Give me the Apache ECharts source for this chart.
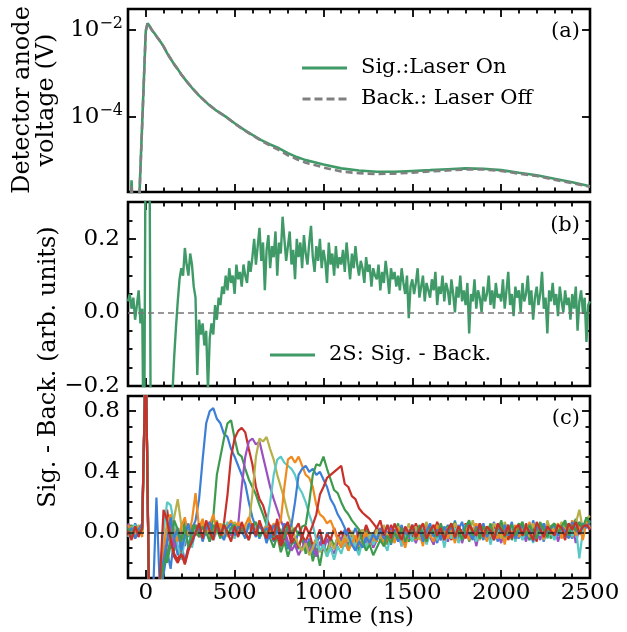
<!DOCTYPE html>
<html>
<head>
<meta charset="utf-8">
<script src="https://cdn.jsdelivr.net/npm/echarts@6/dist/echarts.min.js"></script>
<style>
  html, body { margin: 0; padding: 0; background: #fff; }
  #chart { width: 627px; height: 632px; }
</style>
</head>
<body>
<div id="chart"></div>
<script>
// ---- panel (a): detector anode voltage in V (log axis) ----
const timeA = [-100, -90, -80, -70, -60, -50, -40,
  0, 10, 20, 30, 40, 50, 60,
  80, 100, 120, 140, 160, 180, 200,
  230, 260, 300, 350, 400, 450, 500,
  550, 600, 650, 700, 750, 800, 850,
  900, 950, 1000, 1100, 1200, 1300, 1400,
  1500, 1600, 1700, 1800, 1900, 2000, 2100,
  2200, 2300, 2400, 2500]
const sigOn = [4e-7, 2e-7, 3.5e-6, 3e-7, 5e-7, 2e-7, 6e-7,
  9.5e-3, 1.43e-2, 1.26e-2, 1.07e-2, 9.3e-3, 8.3e-3, 7.2e-3,
  5.6e-3, 4.2e-3, 2.95e-3, 2.19e-3, 1.62e-3, 1.26e-3, 9.5e-4,
  6.6e-4, 4.7e-4, 3.1e-4, 2.0e-4, 1.38e-4, 1.02e-4, 7.2e-5,
  5.2e-5, 3.9e-5, 2.95e-5, 2.34e-5, 1.91e-5, 1.48e-5, 1.20e-5,
  1.02e-5, 9.1e-6, 8.1e-6, 6.6e-6, 5.9e-6, 5.5e-6, 5.5e-6,
  5.75e-6, 6.0e-6, 6.3e-6, 6.6e-6, 6.45e-6, 6.0e-6, 5.25e-6,
  4.6e-6, 3.8e-6, 3.16e-6, 2.57e-6]
const backOff = [3e-7, 5e-7, 2.8e-6, 2e-7, 4e-7, 3e-7, 5e-7,
  9.5e-3, 1.43e-2, 1.26e-2, 1.07e-2, 9.3e-3, 8.3e-3, 7.2e-3,
  5.6e-3, 4.2e-3, 2.95e-3, 2.19e-3, 1.62e-3, 1.26e-3, 9.5e-4,
  6.6e-4, 4.7e-4, 3.1e-4, 2.0e-4, 1.38e-4, 1.02e-4, 7.1e-5,
  5.1e-5, 3.8e-5, 2.85e-5, 2.19e-5, 1.74e-5, 1.32e-5, 1.07e-5,
  8.9e-6, 7.9e-6, 6.9e-6, 5.6e-6, 5.1e-6, 4.9e-6, 5.0e-6,
  5.25e-6, 5.6e-6, 5.9e-6, 6.2e-6, 6.2e-6, 5.75e-6, 5.0e-6,
  4.4e-6, 3.6e-6, 3.0e-6, 2.5e-6]

// ---- panel (b): 2S signal minus background, sampled every 10 ns from -100 ns ----
const T0 = -100
const stepB = 10
const diff2S = [
  0.03, 0.05, 0.01, 0.04, -0.02, 0.02, 0.06, -0.03, 0.01, -0.5,
  0.6, 0.8, 0.6, -0.6, -0.5, -0.45, -0.5, -0.4, -0.45, -0.38,
  -0.35, -0.4, -0.3, -0.28, -0.3, -0.22, -0.12, -0.04, 0.03, 0.09,
  0.12, 0.1, 0.175, 0.13, 0.1, 0.16, 0.13, 0.07, 0.04, -0.17,
  -0.02, -0.06, -0.03, -0.09, -0.05, -0.21, -0.07, -0.03, -0.06, 0.02,
  -0.02, 0.04, 0.02, 0.07, 0.05, 0.1, 0.06, 0.12, 0.08, 0.1,
  0.05, 0.13, 0.09, 0.11, 0.07, 0.13, 0.1, 0.08, 0.14, 0.11,
  0.15, 0.2, 0.13, 0.18, 0.23, 0.14, 0.19, 0.06, 0.17, 0.21,
  0.12, 0.18, 0.15, 0.22, 0.1, 0.19, 0.16, 0.26, 0.2, 0.14,
  0.18, 0.22, 0.13, 0.17, 0.09, 0.2, 0.15, 0.19, 0.12, 0.21,
  0.16, 0.13, 0.19, 0.235, 0.15, 0.11, 0.18, 0.14, 0.2, 0.12,
  0.17, 0.14, 0.08, 0.19, 0.13, 0.16, 0.1, 0.18, 0.12, 0.15,
  0.13, 0.17, 0.11, 0.19, 0.14, 0.09, 0.16, 0.12, 0.18, 0.13,
  0.1, 0.14, 0.12, 0.08, 0.15, 0.11, 0.13, 0.07, 0.12, 0.1,
  0.09, 0.13, 0.06, 0.11, 0.08, 0.14, 0.1, 0.05, 0.12, 0.09,
  0.11, 0.07, 0.1, 0.06, 0.12, 0.08, 0.05, 0.1, -0.016, 0.07,
  0.09, 0.05, 0.08, 0.12, 0.04, 0.07, 0.1, 0.03, 0.08, 0.06,
  0.04, 0.09, 0.06, 0.11, 0.02, 0.07, 0.05, 0.1, 0.03, 0.08,
  0.06, 0.02, 0.09, 0.05, 0.0, 0.07, 0.04, 0.1, 0.03, 0.06,
  0.02, 0.08, -0.057, 0.05, 0.03, 0.09, 0.01, 0.06, 0.04, 0.0,
  0.07, 0.03, 0.05, 0.1, 0.02, 0.06, 0.01, 0.08, 0.04, 0.05,
  0.03, 0.09, 0.01, 0.06, 0.11, 0.02, 0.05, -0.01, 0.07, 0.04,
  0.06, 0.0, 0.08, 0.03, 0.05, 0.1, 0.02, 0.06, -0.02, 0.04,
  0.07, 0.02, 0.05, 0.11, 0.01, 0.04, -0.057, 0.06, 0.03, 0.08,
  0.02, 0.05, -0.01, 0.07, 0.03, 0.0, 0.06, 0.02, 0.04, -0.02,
  0.05, 0.01, 0.07, -0.05, 0.03, 0.06, 0.0, 0.04, -0.08, 0.02,
  0.03]

// ---- panel (c): single scans, sampled every 20 ns from -100 ns ----
const stepC = 20
const scanBlue1 = [
  0.04, -0.03, 0.06, 0.01, 0.03, 1.2, -0.6, -0.45, 0.23, -0.4,
  -0.28, -0.12, -0.24, -0.02, -0.15, -0.06, -0.2, -0.09, 0.02, 0.08,
  0.22, 0.48, 0.72, 0.8, 0.82, 0.75, 0.72, 0.65, 0.63, 0.55,
  0.5, 0.44, 0.38, 0.32, 0.2, 0.1, 0.03, -0.04, 0.02, -0.07,
  0.01, -0.06, 0.03, -0.09, 0.0, -0.11, -0.04, -0.08, 0.01, -0.05,
  -0.12, -0.04, -0.15, -0.07, -0.02, -0.11, 0.0, -0.06, -0.1, -0.03,
  -0.06, 0.02, -0.09, -0.03, 0.03, -0.05, -0.01, 0.04, -0.07, 0.0,
  -0.04, 0.03, -0.06, 0.01, -0.08, 0.02, -0.03, 0.05, -0.05, 0.0,
  0.04, -0.06, 0.02, -0.02, 0.06, -0.04, 0.01, -0.07, 0.03, -0.01,
  0.05, -0.03, 0.08, -0.05, 0.02, -0.02, 0.06, -0.04, 0.03, 0.0,
  -0.05, 0.04, -0.01, 0.07, -0.06, 0.02, -0.03, 0.05, -0.02, 0.03,
  -0.04, 0.06, 0.0, -0.05, 0.08, -0.02, 0.03, -0.06, 0.04, 0.01,
  -0.03, 0.05, -0.01, 0.07, 0.0, -0.04, 0.06, 0.02, -0.02, 0.08,
  0.04]
const scanGreen1 = [
  0.02, 0.05, -0.04, 0.03, -0.01, 1.2, -0.55, -0.5, -0.42, -0.38,
  -0.15, -0.2, -0.08, -0.12, 0.02, -0.05, 0.08, -0.03, 0.05, -0.02,
  0.04, -0.05, 0.06, -0.02, 0.1, 0.38, 0.5, 0.62, 0.72, 0.74,
  0.62, 0.52, 0.5, 0.42, 0.35, 0.3, 0.25, 0.18, 0.12, 0.05,
  -0.04, -0.1, -0.02, -0.13, -0.06, -0.16, -0.08, -0.04, -0.11, -0.02,
  -0.14, -0.06, -0.19, -0.1, -0.22, -0.08, -0.13, -0.03, -0.09, -0.05,
  -0.08, -0.02, -0.1, 0.01, -0.06, -0.12, -0.03, 0.02, -0.07, -0.01,
  0.03, -0.05, 0.0, -0.08, 0.04, -0.02, 0.06, -0.04, 0.01, -0.06,
  -0.02, 0.05, -0.04, 0.02, -0.07, 0.03, 0.0, 0.06, -0.03, 0.02,
  0.04, -0.02, 0.07, -0.03, 0.01, 0.05, -0.06, 0.02, -0.01, 0.06,
  0.0, -0.04, 0.05, 0.01, -0.03, 0.08, -0.02, 0.04, -0.05, 0.02,
  0.06, -0.01, 0.03, -0.05, 0.04, 0.0, 0.07, -0.03, 0.02, -0.04,
  0.05, 0.01, -0.03, 0.06, -0.02, 0.04, 0.09, -0.01, 0.03, 0.05,
  0.02]
const scanRed1 = [
  -0.02, 0.04, 0.01, -0.03, 0.05, 1.2, -0.58, -0.48, -0.44, -0.36,
  0.05, 0.15, -0.02, -0.14, -0.18, -0.12, -0.2, -0.1, -0.04, 0.02,
  -0.03, 0.05, 0.0, 0.07, -0.02, 0.04, 0.01, 0.06, 0.25, 0.5,
  0.62, 0.67, 0.69, 0.66, 0.55, 0.45, 0.3, 0.22, 0.18, 0.1,
  0.03, -0.05, -0.02, -0.09, -0.04, 0.01, -0.07, -0.03, -0.1, -0.02,
  -0.06, 0.0, -0.09, -0.04, 0.02, -0.08, -0.01, -0.05, 0.03, -0.04,
  0.01, -0.06, 0.03, -0.02, -0.08, 0.02, -0.04, 0.05, -0.01, -0.05,
  0.04, -0.03, 0.02, -0.06, 0.05, 0.0, -0.04, 0.03, -0.07, 0.01,
  -0.03, 0.06, -0.01, 0.03, -0.05, 0.04, -0.02, 0.07, 0.0, -0.04,
  0.02, -0.05, 0.04, 0.0, -0.03, 0.06, -0.01, 0.03, -0.06, 0.05,
  -0.02, 0.03, -0.06, 0.05, 0.01, -0.03, 0.04, -0.05, 0.02, 0.0,
  0.03, -0.04, 0.06, -0.01, 0.02, -0.06, 0.05, 0.0, -0.03, 0.04,
  -0.01, 0.04, 0.02, -0.05, 0.06, 0.01, -0.02, 0.05, 0.03, 0.07,
  0.05]
const scanPurple = [
  0.06, 0.0, 0.03, -0.02, 0.04, 1.2, -0.6, -0.5, -0.46, -0.4,
  -0.2, -0.08, 0.06, -0.1, -0.05, 0.04, -0.09, 0.03, -0.02, 0.05,
  0.0, -0.04, 0.03, -0.06, 0.02, 0.05, -0.03, 0.04, 0.0, -0.02,
  0.06, 0.05, 0.3, 0.5, 0.6, 0.62, 0.58, 0.6, 0.5, 0.4,
  0.3, 0.22, 0.15, 0.08, 0.02, -0.06, -0.12, -0.08, -0.15, -0.1,
  -0.05, -0.13, -0.08, -0.16, -0.06, -0.12, -0.04, -0.1, -0.14, -0.07,
  -0.03, -0.09, -0.05, 0.0, -0.11, -0.04, 0.02, -0.07, -0.02, -0.1,
  -0.05, 0.01, -0.08, -0.02, 0.03, -0.06, 0.0, -0.09, 0.02, -0.04,
  0.02, -0.07, 0.01, -0.04, 0.04, -0.03, -0.08, 0.02, -0.05, 0.0,
  -0.06, 0.03, -0.02, 0.05, -0.07, 0.01, -0.04, 0.03, -0.09, 0.02,
  0.01, -0.05, 0.04, -0.03, 0.0, -0.07, 0.03, -0.02, 0.05, -0.04,
  -0.03, 0.02, -0.06, 0.04, -0.01, 0.03, -0.05, 0.06, -0.02, 0.0,
  0.04, -0.06, 0.02, 0.0, -0.03, 0.05, -0.07, 0.03, 0.01, 0.06,
  0.02]
const scanOlive = [
  0.01, 0.04, -0.03, 0.05, 0.0, 1.2, -0.55, -0.52, -0.4, -0.34,
  -0.1, 0.04, -0.06, 0.1, 0.22, 0.05, -0.05, 0.02, -0.08, 0.03,
  -0.02, 0.06, 0.0, -0.04, 0.03, 0.08, -0.01, 0.05, -0.03, 0.02,
  0.07, 0.0, 0.04, 0.02, 0.06, 0.25, 0.5, 0.62, 0.6, 0.63,
  0.55, 0.48, 0.38, 0.3, 0.22, 0.12, 0.05, -0.03, -0.08, -0.12,
  -0.07, -0.15, -0.1, -0.04, -0.13, -0.09, -0.16, -0.06, -0.11, -0.03,
  -0.08, -0.02, -0.06, 0.01, -0.09, -0.04, 0.02, -0.05, 0.0, -0.07,
  0.02, -0.04, 0.05, -0.02, 0.01, -0.06, 0.04, 0.0, -0.03, 0.06,
  -0.01, 0.04, -0.05, 0.02, 0.07, -0.02, 0.03, -0.04, 0.05, 0.0,
  0.03, -0.03, 0.06, 0.01, -0.04, 0.04, -0.02, 0.08, 0.0, -0.05,
  0.05, 0.0, -0.03, 0.06, 0.02, -0.04, 0.07, 0.01, -0.02, 0.04,
  -0.02, 0.05, 0.02, -0.03, 0.06, 0.0, 0.04, -0.05, 0.08, 0.01,
  0.03, -0.02, 0.07, 0.01, 0.05, -0.03, 0.06, 0.15, 0.02, 0.09,
  0.11]
const scanCyan = [
  -0.03, 0.02, 0.05, -0.01, 0.03, 1.2, -0.6, -0.5, -0.45, -0.38,
  0.0, 0.2, 0.18, 0.05, -0.08, -0.18, -0.05, 0.03, -0.1, 0.02,
  0.05, -0.03, 0.02, 0.06, -0.05, 0.01, 0.04, -0.02, 0.07, 0.0,
  -0.04, 0.03, 0.06, -0.01, 0.04, 0.0, 0.05, -0.03, 0.02, 0.05,
  0.2, 0.38, 0.48, 0.5, 0.46, 0.44, 0.42, 0.38, 0.3, 0.26,
  0.2, 0.12, 0.05, -0.05, -0.12, -0.08, -0.16, -0.1, -0.18, -0.09,
  -0.14, -0.06, -0.12, -0.03, -0.09, -0.15, -0.05, -0.1, -0.02, -0.08,
  -0.04, 0.01, -0.07, -0.12, 0.0, -0.05, 0.03, -0.09, -0.02, 0.02,
  -0.06, 0.0, -0.03, 0.04, -0.08, -0.01, 0.02, -0.05, 0.03, -0.1,
  0.01, -0.04, 0.03, -0.07, 0.0, 0.05, -0.03, 0.02, -0.06, 0.01,
  -0.03, 0.04, -0.08, 0.02, -0.01, 0.05, -0.04, 0.0, 0.03, -0.06,
  0.02, -0.05, 0.01, 0.04, -0.07, 0.03, -0.02, 0.06, -0.04, 0.0,
  -0.05, 0.03, 0.0, -0.03, 0.05, -0.02, 0.04, -0.17, 0.01, 0.06,
  0.03]
const scanOrange = [
  0.05, -0.01, 0.02, 0.04, -0.03, 1.2, -0.56, -0.48, -0.43, -0.37,
  -0.12, 0.06, 0.12, 0.0, -0.06, 0.04, 0.1, -0.02, 0.08, 0.26,
  0.03, 0.09, -0.02, 0.05, 0.12, 0.0, 0.06, -0.03, 0.04, 0.08,
  0.02, 0.07, -0.01, 0.05, 0.1, 0.03, -0.02, 0.06, 0.01, 0.04,
  0.0, 0.06, 0.03, 0.08, 0.3, 0.48, 0.5, 0.46, 0.5, 0.44,
  0.38, 0.36, 0.3, 0.18, 0.12, 0.1, 0.06, 0.08, 0.02, -0.05,
  -0.1, -0.04, -0.12, -0.07, -0.02, -0.09, -0.05, 0.0, -0.08, -0.03,
  -0.06, 0.02, -0.09, -0.04, 0.01, -0.07, 0.03, -0.03, -0.1, 0.0,
  0.03, -0.05, 0.0, -0.09, 0.04, -0.02, -0.06, 0.05, -0.01, 0.02,
  -0.04, 0.02, -0.07, 0.04, -0.01, 0.03, -0.05, 0.01, 0.06, -0.03,
  0.02, -0.06, 0.05, 0.0, -0.04, 0.03, -0.08, 0.04, -0.01, 0.05,
  -0.03, 0.04, -0.02, 0.07, -0.05, 0.01, 0.03, -0.04, 0.05, -0.01,
  0.02, 0.06, -0.04, 0.03, 0.0, 0.08, -0.02, 0.04, -0.05, 0.07,
  0.03]
const scanBlue2 = [
  0.0, 0.03, -0.04, 0.02, 0.06, 1.2, -0.58, -0.46, -0.44, -0.32,
  -0.18, -0.05, 0.1, -0.04, 0.03, -0.12, -0.02, 0.06, -0.07, 0.0,
  0.04, -0.06, 0.02, 0.07, -0.03, 0.05, 0.0, -0.05, 0.03, 0.06,
  -0.02, 0.04, 0.01, -0.04, 0.06, 0.02, -0.03, 0.05, 0.0, 0.03,
  -0.04, 0.05, 0.02, -0.02, 0.06, 0.01, 0.05, 0.2, 0.38, 0.42,
  0.44, 0.4, 0.42, 0.38, 0.4, 0.35, 0.3, 0.22, 0.18, 0.12,
  0.08, 0.03, -0.02, -0.08, -0.12, -0.06, -0.1, -0.03, -0.07, -0.01,
  -0.05, 0.02, -0.04, 0.05, -0.02, 0.01, -0.06, 0.03, 0.0, -0.03,
  0.05, -0.02, 0.03, -0.06, 0.01, 0.06, -0.03, 0.02, -0.05, 0.04,
  -0.01, 0.05, -0.04, 0.02, 0.07, -0.02, 0.0, -0.05, 0.04, 0.01,
  0.06, -0.03, 0.02, -0.05, 0.04, 0.0, 0.05, -0.02, 0.07, -0.04,
  0.01, 0.05, -0.03, 0.02, -0.06, 0.04, 0.0, 0.06, -0.02, 0.03,
  0.05, -0.02, 0.04, 0.01, -0.04, 0.07, 0.02, -0.01, 0.06, 0.03,
  0.08]
const scanGreen2 = [
  0.03, -0.02, 0.04, 0.0, 0.02, 1.2, -0.6, -0.5, -0.45, -0.36,
  -0.22, -0.14, -0.05, 0.08, 0.02, -0.06, 0.04, -0.1, 0.0, 0.05,
  -0.03, 0.04, 0.0, -0.06, 0.05, 0.02, -0.04, 0.06, -0.01, 0.03,
  0.05, -0.02, 0.03, 0.0, -0.05, 0.04, 0.07, -0.03, 0.02, -0.01,
  0.04, -0.03, 0.05, 0.01, -0.04, 0.06, 0.0, 0.03, -0.02, 0.04,
  0.05, 0.2, 0.38, 0.45, 0.44, 0.5, 0.42, 0.35, 0.28, 0.26,
  0.2, 0.15, 0.12, 0.08, 0.05, 0.02, -0.06, -0.12, -0.08, -0.15,
  -0.1, -0.05, -0.09, -0.02, -0.07, 0.0, -0.04, 0.03, -0.06, -0.01,
  0.02, -0.04, 0.05, -0.01, -0.06, 0.03, 0.0, -0.03, 0.06, -0.02,
  0.01, 0.06, -0.03, 0.02, -0.05, 0.04, 0.08, -0.02, 0.03, -0.04,
  0.04, -0.01, 0.06, -0.04, 0.02, 0.07, -0.03, 0.01, 0.05, -0.02,
  0.03, 0.07, -0.02, 0.05, 0.0, -0.04, 0.06, 0.02, -0.03, 0.04,
  0.06, 0.0, 0.04, 0.08, -0.02, 0.05, 0.01, 0.07, 0.03, 0.1,
  0.06]
const scanRed2 = [
  0.01, -0.05, 0.04, -0.02, 0.03, 1.2, -0.6, -0.52, -0.46, -0.3,
  0.15, 0.08, -0.05, -0.16, -0.2, -0.14, -0.21, -0.12, -0.06, 0.0,
  0.06, -0.04, 0.08, 0.01, -0.05, 0.07, -0.02, 0.05, 0.0, -0.06,
  0.04, -0.03, 0.07, 0.0, -0.05, 0.06, -0.02, 0.08, 0.01, -0.04,
  0.05, -0.02, 0.09, -0.06, 0.03, 0.07, -0.04, 0.02, 0.06, -0.03,
  0.04, -0.01, 0.05, 0.12, 0.25, 0.3, 0.36, 0.38, 0.4, 0.42,
  0.44, 0.32, 0.3, 0.24, 0.22, 0.16, 0.13, 0.11, 0.09, 0.06,
  0.03, 0.08, -0.02, 0.05, -0.04, 0.06, 0.0, -0.05, 0.04, -0.01,
  0.05, -0.03, 0.02, 0.06, -0.04, 0.01, 0.05, -0.02, 0.03, -0.05,
  0.02, 0.06, -0.03, 0.04, 0.0, -0.04, 0.05, 0.01, -0.02, 0.06,
  -0.03, 0.04, 0.01, -0.05, 0.06, 0.02, -0.02, 0.05, -0.04, 0.03,
  0.05, -0.02, 0.04, 0.0, -0.05, 0.07, 0.02, -0.03, 0.04, 0.01,
  -0.02, 0.05, 0.03, -0.03, 0.06, 0.02, 0.07, -0.01, 0.04, 0.05,
  0.02]

// ---- ticks ----
const xMajor = [0, 500, 1000, 1500, 2000, 2500]
const xMinor = [-100, 100, 200, 300, 400, 600, 700, 800, 900, 1100, 1200, 1300, 1400,
  1600, 1700, 1800, 1900, 2100, 2200, 2300, 2400]
const aMajor = [-4, -2] // log10 of 1e-4, 1e-2
const bMajor = [-0.2, 0, 0.2]
const bMinor = [-0.15, -0.1, -0.05, 0.05, 0.1, 0.15, 0.25]
const cMajor = [0, 0.4, 0.8]
const cMinor = [-0.2, -0.1, 0.1, 0.2, 0.3, 0.5, 0.6, 0.7]

const FONT = 'DejaVu Serif'
const TXT = { fontFamily: FONT, fontSize: 23, color: '#000' }
const SMALL = { fontFamily: FONT, fontSize: 21, color: '#000' }

const tick = (vals, len) => ({
  show: true, inside: true, length: len, customValues: vals,
  lineStyle: { color: '#000', width: 1.8 },
})
const noLine = { show: false, onZero: false }

const xAxes = []
const yAxes = []
const xIdx = []
const yIdx = []

function addX(g, withLabels) {
  const base = { type: 'value', gridIndex: g, min: -100, max: 2500,
    axisLine: noLine, splitLine: { show: false }, axisLabel: { show: false } }
  xIdx[g] = xAxes.length
  const main = Object.assign({}, base, { position: 'bottom', axisTick: tick(xMajor, 8) })
  if (withLabels) {
    main.axisLabel = Object.assign({ show: true, customValues: xMajor, margin: 4, formatter: v => String(v) }, TXT)
    main.name = 'Time (ns)'
    main.nameLocation = 'middle'
    main.nameGap = 27
    main.nameTextStyle = TXT
  }
  xAxes.push(main,
    Object.assign({}, base, { position: 'bottom', axisTick: tick(xMinor, 4.5) }),
    Object.assign({}, base, { position: 'top', axisTick: tick(xMajor, 8) }),
    Object.assign({}, base, { position: 'top', axisTick: tick(xMinor, 4.5) }))
}

function addY(g, min, max, major, minor, label) {
  const base = { type: 'value', gridIndex: g, min: min, max: max,
    axisLine: noLine, splitLine: { show: false }, axisLabel: { show: false } }
  yIdx[g] = yAxes.length
  yAxes.push(
    Object.assign({}, base, { position: 'left', axisTick: tick(major, 8),
      axisLabel: Object.assign({ show: true, customValues: major }, TXT, label) }),
    Object.assign({}, base, { position: 'right', axisTick: tick(major, 8) }))
  if (minor.length) {
    yAxes.push(
      Object.assign({}, base, { position: 'left', axisTick: tick(minor, 4.5) }),
      Object.assign({}, base, { position: 'right', axisTick: tick(minor, 4.5) }))
  }
}

const fmtDec = v => (v < 0 ? '\u2212' : '') + Math.abs(v).toFixed(1)

addX(0, false)
addX(1, false)
addX(2, true)
addY(0, -5.724, -1.517, aMajor, [], {
  margin: 5,
  formatter: v => '{b|10}{e|\u2212' + Math.abs(v) + '}',
  rich: {
    b: { fontFamily: FONT, fontSize: 23, color: '#000' },
    e: { fontFamily: FONT, fontSize: 16, color: '#000', verticalAlign: 'bottom', padding: [0, 0, 12, 0] },
  },
})
addY(1, -0.2, 0.3, bMajor, bMinor, { margin: 8, formatter: fmtDec })
addY(2, -0.3, 0.9, cMajor, cMinor, { margin: 8, formatter: fmtDec })

const gridBox = { left: 128, right: 37, show: true, borderColor: '#000', borderWidth: 2.6,
  backgroundColor: 'rgba(0,0,0,0)', outerBoundsMode: 'none' }

const GREEN = '#3f9a68'
const zeroLine = (color) => ({
  silent: true, symbol: 'none', label: { show: false },
  lineStyle: { color: color, type: [6, 4], width: 1.5 },
  data: [{ yAxis: 0 }],
})

const series = [
  {
    name: 'Sig.:Laser On', type: 'line', xAxisIndex: xIdx[0], yAxisIndex: yIdx[0],
    symbol: 'none', lineStyle: { color: GREEN, width: 2.6 }, itemStyle: { color: GREEN },
    data: timeA.map((t, i) => [t, Math.log10(sigOn[i])]),
  },
  {
    name: 'Back.: Laser Off', type: 'line', xAxisIndex: xIdx[0], yAxisIndex: yIdx[0],
    symbol: 'none', lineStyle: { color: '#808080', width: 2.6, type: [7, 4] }, itemStyle: { color: '#808080' },
    data: timeA.map((t, i) => [t, Math.log10(backOff[i])]),
  },
  {
    name: '2S: Sig. - Back.', type: 'line', xAxisIndex: xIdx[1], yAxisIndex: yIdx[1],
    symbol: 'none', lineStyle: { color: GREEN, width: 2.4 }, itemStyle: { color: GREEN },
    data: diff2S.map((v, i) => [T0 + i * stepB, v]),
    markLine: zeroLine('#777'),
  },
]

const scans = [
  [scanBlue1, '#3c7fd6'], [scanGreen1, '#3e9b4e'], [scanRed1, '#c8302a'],
  [scanPurple, '#9a50be'], [scanOlive, '#b7b04a'], [scanCyan, '#5ac8c5'],
  [scanOrange, '#f08a1e'], [scanBlue2, '#3c7fd6'], [scanGreen2, '#3e9b4e'],
  [scanRed2, '#c8302a'],
]
scans.forEach(([vals, color], k) => {
  const s = {
    name: 'scan' + k, type: 'line', xAxisIndex: xIdx[2], yAxisIndex: yIdx[2],
    symbol: 'none', lineStyle: { color: color, width: 2.2 }, itemStyle: { color: color },
    data: vals.map((v, i) => [T0 + i * stepC, v]),
  }
  if (k === scans.length - 1) s.markLine = zeroLine('#222')
  series.push(s)
})

const legendText = Object.assign({ padding: [0, 0, 0, 9], lineHeight: 24 }, SMALL)
const solidIcon = 'path://M0,0h45v2.8h-45z'
const dashIcon = 'path://M0,0h8v2.8h-8zM12,0h8v2.8h-8zM24,0h8v2.8h-8zM36,0h8v2.8h-8z'

const option = {
  animation: false,
  backgroundColor: '#fff',
  grid: [
    Object.assign({ top: 9, height: 183 }, gridBox),
    Object.assign({ top: 202, height: 184 }, gridBox),
    Object.assign({ top: 396, height: 182 }, gridBox),
  ],
  xAxis: xAxes,
  yAxis: yAxes,
  legend: [
    { left: 297, top: 51, orient: 'vertical', itemWidth: 45, itemHeight: 2.8, itemGap: 7,
      data: [{ name: 'Sig.:Laser On', icon: solidIcon }, { name: 'Back.: Laser Off', icon: dashIcon }],
      textStyle: legendText },
    { left: 265, top: 338, itemWidth: 45, itemHeight: 2.8,
      data: [{ name: '2S: Sig. - Back.', icon: solidIcon }], textStyle: legendText },
  ],
  graphic: [
    { type: 'text', x: 580, y: 32, style: { text: '(a)', fill: '#000', fontFamily: FONT, fontSize: 21, align: 'right', verticalAlign: 'middle' } },
    { type: 'text', x: 580, y: 226, style: { text: '(b)', fill: '#000', fontFamily: FONT, fontSize: 21, align: 'right', verticalAlign: 'middle' } },
    { type: 'text', x: 580, y: 419, style: { text: '(c)', fill: '#000', fontFamily: FONT, fontSize: 21, align: 'right', verticalAlign: 'middle' } },
    { type: 'text', x: 35, y: 100, rotation: Math.PI / 2,
      style: { text: 'Detector anode\nvoltage (V)', fill: '#000', fontFamily: FONT, fontSize: 24, lineHeight: 24, align: 'center', verticalAlign: 'middle' } },
    { type: 'text', x: 49, y: 367, rotation: Math.PI / 2,
      style: { text: 'Sig. - Back. (arb. units)', fill: '#000', fontFamily: FONT, fontSize: 24, align: 'center', verticalAlign: 'middle' } },
  ],
  series: series,
}

const chart = echarts.init(document.getElementById('chart'), null, { renderer: 'canvas' })
chart.setOption(option)
</script>
</body>
</html>
